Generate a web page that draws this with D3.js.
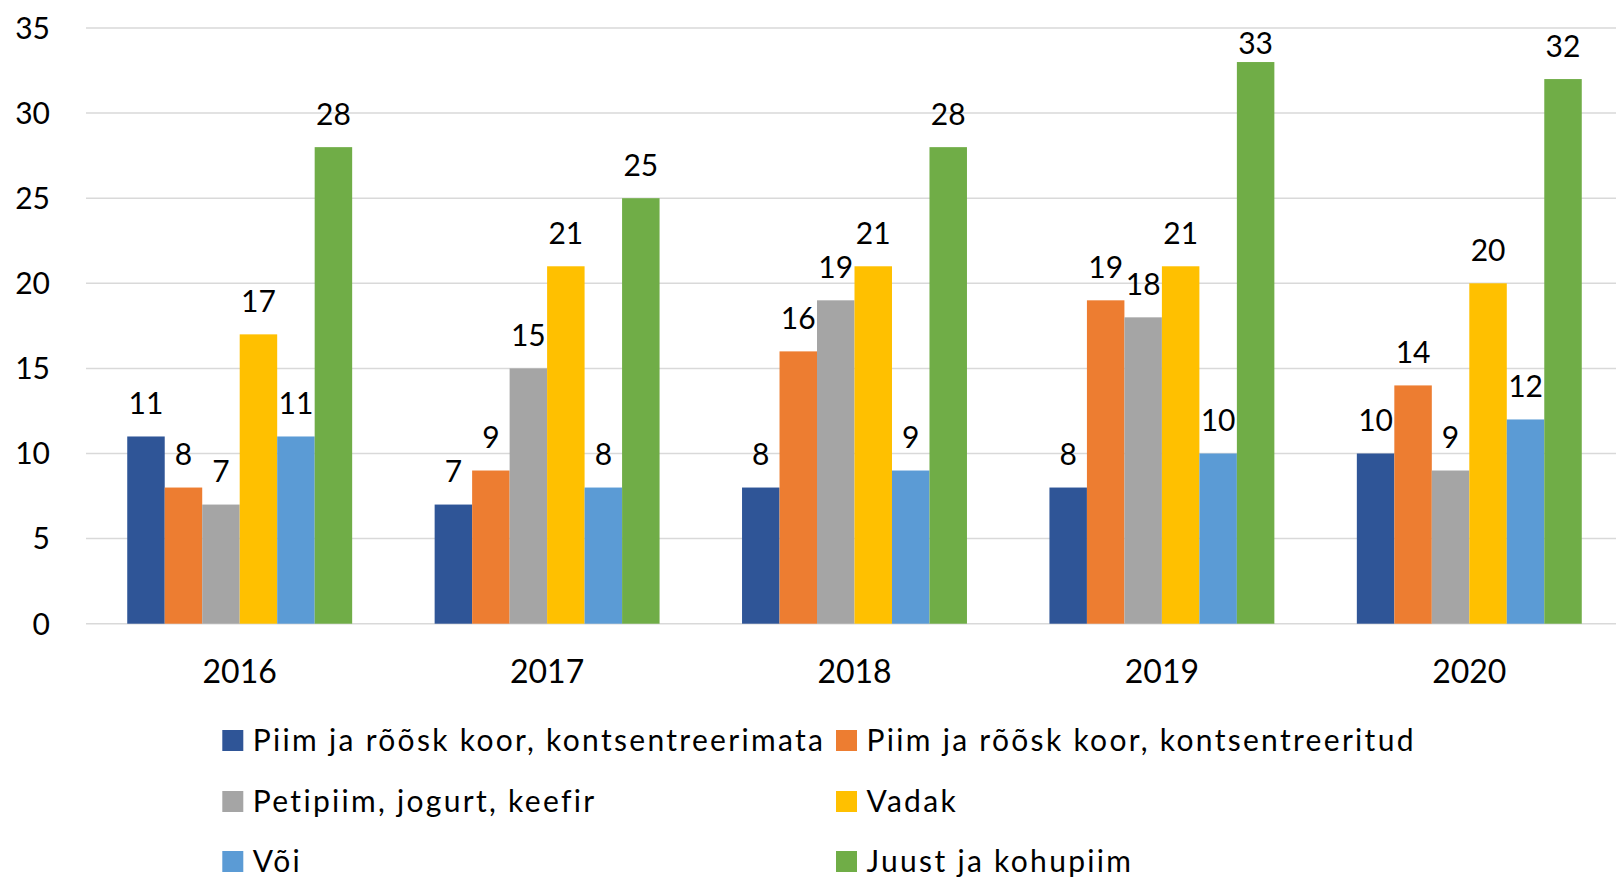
<!DOCTYPE html>
<html>
<head>
<meta charset="utf-8">
<script src="https://cdn.jsdelivr.net/npm/d3@7"></script>
<style>
  body { margin: 0; background: #fff; }
  svg { display: block; font-family: Lato, "Open Sans", sans-serif; }
</style>
</head>
<body>
<div id="chart"></div>
<script>
const years = ['2016', '2017', '2018', '2019', '2020']
const seriesNames = [
  'Piim ja rõõsk koor, kontsentreerimata',
  'Piim ja rõõsk koor, kontsentreeritud',
  'Petipiim, jogurt, keefir',
  'Vadak',
  'Või',
  'Juust ja kohupiim'
]
const colors = ['#2F5597', '#ED7D31', '#A5A5A5', '#FFC000', '#5B9BD5', '#70AD47']
const piim = [11, 7, 8, 8, 10]
const piimKontsentr = [8, 9, 16, 19, 14]
const petipiim = [7, 15, 19, 18, 9]
const vadak = [17, 21, 21, 21, 20]
const voi = [11, 8, 9, 10, 12]
const juust = [28, 25, 28, 33, 32]
const yTicks = [0, 5, 10, 15, 20, 25, 30, 35]

const series = [piim, piimKontsentr, petipiim, vadak, voi, juust]

const width = 1616
const height = 880
const plot = { left: 86, right: 1623, top: 28, bottom: 623.7 }

const svg = d3.select('#chart').append('svg')
  .attr('width', width)
  .attr('height', height)

const scaleX = d3.scaleBand()
  .domain(years)
  .range([plot.left, plot.right])

const inner = d3.scaleBand()
  .domain(d3.range(series.length))
  .range([0, scaleX.bandwidth()])
  .paddingOuter(1.1)

const scaleY = d3.scaleLinear()
  .domain([0, 35])
  .range([plot.bottom, plot.top])

// gridlines
svg.append('g')
  .selectAll('line')
  .data(yTicks)
  .enter()
  .append('line')
  .attr('x1', plot.left)
  .attr('x2', width)
  .attr('y1', d => scaleY(d))
  .attr('y2', d => scaleY(d))
  .attr('stroke', '#D9D9D9')
  .attr('stroke-width', 1.5)

// y labels
svg.append('g')
  .selectAll('text')
  .data(yTicks)
  .enter()
  .append('text')
  .attr('x', 50)
  .attr('y', d => scaleY(d))
  .attr('dy', '0.36em')
  .attr('text-anchor', 'end')
  .attr('font-size', 30)
  .attr('fill', '#000')
  .text(d => d)

// bars
const rows = []
series.forEach((vals, s) => {
  vals.forEach((v, i) => rows.push({ year: years[i], s, v }))
})

const barGroup = svg.append('g')

barGroup.selectAll('rect')
  .data(rows)
  .enter()
  .append('rect')
  .attr('x', d => scaleX(d.year) + inner(d.s))
  .attr('width', inner.bandwidth())
  .attr('y', d => scaleY(d.v))
  .attr('height', d => scaleY(0) - scaleY(d.v))
  .attr('fill', d => colors[d.s])

// labels stay inside the plot area, like excel does
barGroup.selectAll('text')
  .data(rows)
  .enter()
  .append('text')
  .attr('x', d => scaleX(d.year) + inner(d.s) + inner.bandwidth() / 2)
  .attr('y', d => Math.max(scaleY(d.v) - 22.5, plot.top + 26.3))
  .attr('text-anchor', 'middle')
  .attr('font-size', 30)
  .attr('fill', '#000')
  .text(d => d.v)

// x labels
svg.append('g')
  .selectAll('text')
  .data(years)
  .enter()
  .append('text')
  .attr('x', d => scaleX(d) + scaleX.bandwidth() / 2)
  .attr('y', 683)
  .attr('text-anchor', 'middle')
  .attr('font-size', 32)
  .attr('fill', '#000')
  .text(d => d)

// legend
const legendCols = [222.3, 836]
const legendRows = [740.5, 801.5, 861.5]
const legend = svg.append('g')
  .selectAll('g')
  .data(seriesNames)
  .enter()
  .append('g')
  .attr('transform', (d, i) => `translate(${legendCols[i % 2]}, ${legendRows[Math.floor(i / 2)]})`)

legend.append('rect')
  .attr('x', 0)
  .attr('y', -10.5)
  .attr('width', 21)
  .attr('height', 21)
  .attr('fill', (d, i) => colors[i])

legend.append('text')
  .attr('x', 30.5)
  .attr('y', 0)
  .attr('dy', '0.35em')
  .attr('font-size', 30)
  .attr('letter-spacing', 2.3)
  .attr('fill', '#000')
  .text(d => d)
</script>
</body>
</html>
